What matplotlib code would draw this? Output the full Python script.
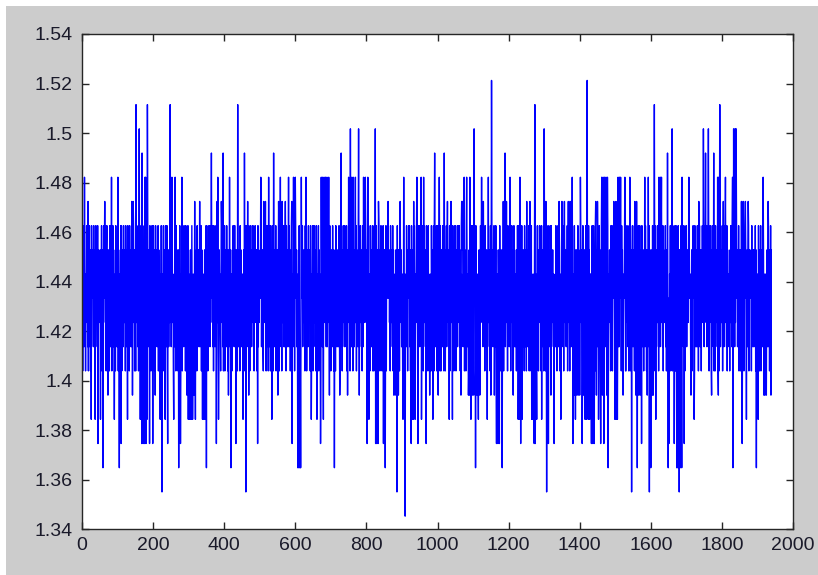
import matplotlib
matplotlib.use("Agg")
import matplotlib.pyplot as plt
from matplotlib.patches import Rectangle
import numpy as np

# signal is quantised: value = base_level + code * level_step
base_level = 1.3452
level_step = 0.00978

# body of the trace, one base-19 code (0-9, a-i) per sample
body_rows = [
    "8b6a9c7b8a6a9c8b7a6c9c7b6a8c9b9a7c8b6a9cb8a7c6b9a8",
    "9b7a8c6b9a6c9b7a8c6bc7a9b8a6c97c8b6a9c7b7b8a6c9b7a",
    "7a6b8c9a7c8c6b9a7c8b8a6c9b7a8ca9b6c7a8b76b9a7c8b6a",
    "b6c8a9b7c69a7c8b6a9c9b7a8c6b9a8b6a9c7b8a9c7b6a8c9b",
    "7c8b6a9c7bb8a7c6b9a86a9c8b7a6c7a6b8c9a7c6c9b7a8c6b",
    "c7a9b8a6c97b8a6c9b7a6b9a7c8b6a8c6b9a7c8bb6c8a9b7c6",
    "8a6c9b7a8c8b6a9c7b8aa9b6c7a8b79b7a8c6b9a9a7c8b6a9c",
    "9c7b6a8c9b7c8b6a9c7b6c9b7a8c6bb8a7c6b9a86a9c8b7a6c",
    "8c6b9a7c8b6b9a7c8b6a7a6b8c9a7cc7a9b8a6c97b8a6c9b7a",
    "9a7c8b6a9cb6c8a9b7c68a6c9b7a8c9c7b6a8c9b8b6a9c7b8a",
    "a9b6c7a8b76a9c8b7a6c7c8b6a9c7b6c9b7a8c6b9b7a8c6b9a",
    "b8a7c6b9a87a6b8c9a7c7b8a6c9b7a9a7c8b6a9c6b9a7c8b6a",
    "6c9b7a8c6b9c7b6a8c9bc7a9b8a6c98c6b9a7c8b8a6c9b7a8c",
    "6a9c8b7a6c9b7a8c6b9a8b6a9c7b8ab6c8a9b7c67c8b6a9c7b",
    "6b9a7c8b6aa9b6c7a8b79a7c8b6a9c7a6b8c9a7cb8a7c6b9a8",
    "7b8a6c9b7a8a6c9b7a8c8c6b9a7c8b6a9c8b7a6cc7a9b8a6c9",
    "8b6a9c7b8a6c9b7a8c6bb6c8a9b7c66b9a7c8b6a9c7b6a8c9b",
    "9b7a8c6b9ac7a9b8a6c9b8a7c6b9a87c8b6a9c7ba9b6c7a8b7",
    "7a6b8c9a7c9a7c8b6a9c9c7b6a8c9b7b8a6c9b7a8c6b9a7c8b",
    "7c8b6a9c7b6a9c8b7a6ca9b6c7a8b78a6c9b7a8c6c9b7a8c6b",
    "c7a9b8a6c96b9a7c8b6a8b6a9c7b8ab8a7c6b9a89a7c8b6a9c",
    "8c6b9a7c8b9c7b6a8c9b9b7a8c6b9a6c9b7a8c6b7a6b8c9a7c",
    "b6c8a9b7c67b8a6c9b7a7c8b6a9c7ba9b6c7a8b76a9c8b7a6c",
    "8a6c9b7a8cb8a7c6b9a86b9a7c8b6a9b7a8c6b9ac7a9b8a6c9",
    "9a7c8b6a9c8b6a9c7b8a7a6b8c9a7c8c6b9a7c8b7b8a6c9b7a",
    "6c9b7a8c6ba9b6c7a8b76a9c8b7a6c9c7b6a8c9bb6c8a9b7c6",
    "9c7b6a8c9b8c6b9a7c8bc7a9b8a6c99a7c8b6a9c7c8b6a9c7b",
    "b8a7c6b9a89b7a8c6b9a8a6c9b7a8c8b6a9c7b8a6b9a7c8b6a",
    "6a9c8b7a6c7c8b6a9c7b7b8a6c9b7a7a6b8c9a7ca9b6c7a8b7",
    "6b9a7c8b6a6c9b7a8c6b9a7c8b6a9cc7a9b8a6c98c6b9a7c8b",
    "a9b6c7a8b7c7a9b8a6c9b6c8a9b7c66a9c8b7a6c8a6c9b7a8c",
    "7b8a6c9b7a7a6b8c9a7c8b6a9c7b8a6b9a7c8b6a9b7a8c6b9a",
    "8b6a9c7b8a8a6c9b7a8c8c6b9a7c8bb8a7c6b9a89c7b6a8c9b",
    "9b7a8c6b9ab6c8a9b7c66c9b7a8c6b7b8a6c9b7a9a7c8b6a9c",
    "c7a9b8a6c99a7c8b6a9ca9b6c7a8b77c8b6a9c7b7a6b8c9a7c",
    "7c8b6a9c7b9c7b6a8c9b6a9c8b7a6cb6c8a9b7c68b6a9c7b8a",
    "8c6b9a7c8bb8a7c6b9a87a6b8c9a7c8a6c9b7a8c6c9b7a8c6b",
    "7a6b8c9a7c8b6a9c7b8a9b7a8c6b9aa9b6c7a8b7b8a7c6b9a8",
    "9a7c8b6a9c6b9a7c8b6a7b8a6c9b7a9c7b6a8c9b",
]

# excursions above the band: (sample, code)
high_spikes = [
    (7, 14), (17, 13), (26, 15), (45, 14), (64, 13), (83, 14), (101, 14),
    (140, 13), (144, 13), (152, 17), (161, 16), (169, 15), (177, 14), (179, 14),
    (184, 17), (248, 17), (253, 14), (262, 14), (272, 14), (281, 14), (317, 13),
    (331, 13), (364, 15), (380, 13), (382, 14), (392, 13), (397, 15), (415, 14),
    (438, 17), (457, 15), (466, 13), (503, 14), (511, 13), (516, 13), (525, 14),
    (539, 15), (553, 13), (558, 14), (563, 13), (572, 13), (581, 14), (590, 13),
    (595, 14), (600, 14), (617, 14), (630, 14), (673, 14), (677, 14), (681, 14),
    (685, 14), (689, 14), (694, 14), (729, 15), (750, 14), (755, 16), (759, 14),
    (763, 14), (769, 14), (778, 16), (792, 14), (797, 14), (804, 14), (825, 16),
    (834, 13), (861, 13), (895, 13), (905, 14), (933, 13), (942, 14), (954, 14),
    (961, 14), (992, 15), (1005, 14), (1019, 15), (1028, 13), (1038, 13),
    (1068, 13), (1070, 13), (1075, 14), (1082, 14), (1091, 14), (1103, 16),
    (1124, 14), (1129, 13), (1143, 14), (1152, 18), (1185, 13), (1190, 15),
    (1194, 13), (1204, 14), (1232, 14), (1251, 13), (1260, 13), (1274, 17),
    (1300, 16), (1305, 13), (1342, 13), (1350, 13), (1357, 13), (1368, 13),
    (1373, 13), (1377, 13), (1379, 14), (1402, 14), (1421, 18), (1445, 13),
    (1450, 13), (1462, 14), (1466, 14), (1470, 14), (1474, 14), (1478, 14),
    (1496, 13), (1502, 13), (1508, 14), (1512, 14), (1515, 14), (1527, 14),
    (1541, 14), (1555, 13), (1560, 13), (1583, 14), (1593, 14), (1610, 17),
    (1623, 14), (1627, 14), (1630, 14), (1647, 15), (1660, 16), (1688, 14),
    (1707, 14), (1735, 13), (1748, 16), (1754, 15), (1762, 16), (1777, 15),
    (1788, 14), (1791, 14), (1794, 17), (1804, 13), (1810, 14), (1830, 14),
    (1833, 16), (1837, 16), (1840, 16), (1855, 13), (1860, 13), (1866, 13),
    (1874, 13), (1916, 14), (1930, 13),
]

# excursions below the band: (sample, code)
low_spikes = [
    (26, 4), (37, 4), (45, 3), (52, 4), (59, 2), (73, 5), (91, 4), (105, 2),
    (110, 3), (128, 4), (142, 5), (164, 4), (168, 3), (172, 3), (176, 3),
    (180, 3), (183, 4), (190, 3), (199, 3), (206, 5), (220, 4), (225, 1),
    (234, 4), (241, 3), (258, 4), (272, 2), (277, 3), (295, 5), (299, 4),
    (303, 4), (307, 4), (311, 4), (315, 5), (319, 4), (339, 4), (343, 4),
    (347, 4), (350, 2), (378, 3), (384, 4), (412, 5), (419, 2), (433, 3),
    (453, 4), (461, 1), (469, 5), (494, 3), (534, 4), (551, 5), (591, 3),
    (607, 2), (610, 2), (613, 2), (615, 2), (645, 4), (661, 4), (671, 3),
    (679, 4), (696, 5), (710, 2), (725, 5), (747, 5), (780, 5), (802, 3),
    (807, 4), (826, 3), (829, 3), (833, 3), (848, 3), (853, 2), (877, 5),
    (881, 5), (886, 1), (890, 5), (903, 4), (909, 0), (926, 3), (929, 4),
    (932, 4), (937, 4), (945, 3), (955, 4), (968, 3), (978, 5), (987, 4),
    (1002, 5), (1033, 4), (1042, 4), (1066, 5), (1087, 5), (1090, 5), (1094, 4),
    (1098, 5), (1102, 5), (1107, 2), (1111, 5), (1115, 4), (1119, 5), (1140, 4),
    (1150, 5), (1160, 5), (1166, 3), (1170, 3), (1174, 3), (1182, 2), (1213, 5),
    (1227, 4), (1231, 4), (1234, 3), (1238, 4), (1265, 4), (1268, 4), (1272, 3),
    (1275, 3), (1279, 4), (1293, 4), (1307, 1), (1312, 3), (1319, 5), (1328, 3),
    (1347, 4), (1381, 3), (1384, 5), (1388, 4), (1392, 5), (1396, 5), (1400, 5),
    (1407, 3), (1411, 5), (1415, 4), (1419, 4), (1424, 4), (1428, 4), (1433, 3),
    (1437, 3), (1441, 3), (1447, 5), (1453, 4), (1459, 3), (1464, 5), (1468, 3),
    (1476, 5), (1480, 2), (1499, 4), (1503, 4), (1506, 4), (1522, 5), (1546, 1),
    (1558, 5), (1562, 2), (1566, 5), (1570, 5), (1574, 3), (1590, 5), (1596, 1),
    (1600, 2), (1604, 5), (1607, 5), (1614, 4), (1649, 2), (1651, 3), (1666, 3),
    (1673, 2), (1676, 2), (1680, 1), (1683, 2), (1687, 2), (1694, 3), (1713, 5),
    (1722, 4), (1771, 5), (1790, 5), (1831, 2), (1857, 3), (1869, 4), (1897, 2),
    (1902, 4), (1918, 5), (1921, 5), (1925, 5), (1938, 5),
]

xticks = [0, 200, 400, 600, 800, 1000, 1200, 1400, 1600, 1800, 2000]
yticks = [1.34, 1.36, 1.38, 1.40, 1.42, 1.44, 1.46, 1.48, 1.50, 1.52, 1.54]
ytick_labels = ["1.34", "1.36", "1.38", "1.4", "1.42", "1.44", "1.46",
                "1.48", "1.5", "1.52", "1.54"]

codes = [int(c, 19) for c in "".join(body_rows)]
for i, k in high_spikes + low_spikes:
    if i < len(codes):
        codes[i] = k
codes = np.array(codes)
y = base_level + level_step * codes
x = np.arange(len(y))

plt.rcParams['font.family'] = ['Liberation Sans', 'DejaVu Sans']

fig = plt.figure(figsize=(8.18, 5.75), dpi=100, facecolor='white')
fig.patches.append(Rectangle((6 / 818, 0), 1, 1 - 6 / 575, transform=fig.transFigure,
                             facecolor='#cccccc', edgecolor='none', zorder=-10))
ax = fig.add_axes([82 / 818, 46 / 575, 711 / 818, 495 / 575])
ax.plot(x, y, color='#0000ff', lw=1.0)

ax.set_xlim(0, 2000)
ax.set_ylim(1.34, 1.54)
ax.set_xticks(xticks)
ax.set_yticks(yticks)
ax.set_yticklabels(ytick_labels)
ax.tick_params(direction='in', length=5, width=1, color='#262626',
               top=True, right=True, labelsize=14, labelcolor='#1a1a2a')
ax.tick_params(axis='x', pad=6)
ax.tick_params(axis='y', pad=7)
for s in ax.spines.values():
    s.set_color('#262626')
    s.set_linewidth(1)

fig.savefig('out.png', dpi=100, facecolor=fig.get_facecolor())
